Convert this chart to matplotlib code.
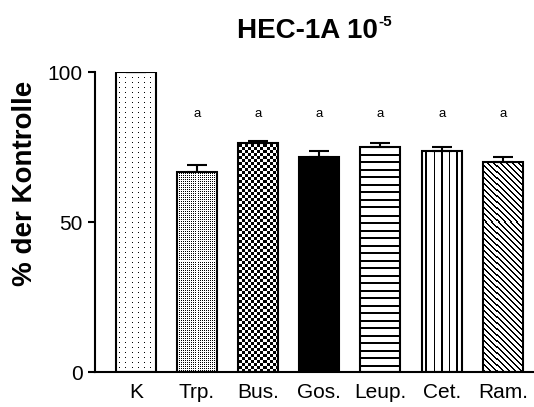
import numpy as np
import matplotlib
matplotlib.use("Agg")
import matplotlib.pyplot as plt

plt.rcParams['font.family'] = ['Liberation Sans', 'DejaVu Sans']

# ---- data ----
categories = ["K", "Trp.", "Bus.", "Gos.", "Leup.", "Cet.", "Ram."]
values = [100.0, 66.7, 76.2, 71.8, 75.1, 73.7, 70.1]
errors = [0.0, 2.3, 0.9, 1.8, 1.1, 1.2, 1.7]
sig_labels = ["", "a", "a", "a", "a", "a", "a"]
y_ticks = [0, 50, 100]
title_main = "HEC-1A 10"
title_sup = "-5"
y_label = "% der Kontrolle"

W, H = 534, 407
fig = plt.figure(figsize=(W / 100, H / 100), dpi=100)
ax_l, ax_b, ax_w, ax_h = 95, 35, 438, 300
ax = fig.add_axes([ax_l / W, ax_b / H, ax_w / W, ax_h / H])

x = np.arange(len(categories))
xlim = (-0.667, 6.493)
bar_w = 0.654

bars = ax.bar(x, values, bar_w, facecolor='none', edgecolor='black',
              linewidth=1.5, zorder=3)

# pixel textures (rows top->bottom, cols left->right)
I, J = np.mgrid[0:ax_h, 0:ax_w]
textures = [
    (J % 6 == 0) & (I % 5 == 0),            # K: sparse dots
    (J % 2 == 0) & (I % 2 == 0),            # Trp: dense dots
    ((I // 3 + J // 3) % 2 == 0),           # Bus: checkerboard
    np.ones_like(I, dtype=bool),            # Gos: solid black
    ((2 * I) % 15 < 4),                     # Leup: horizontal lines
    ((2 * J) % 15 < 3),                     # Cet: vertical lines
    ((J - I) % 6 < 2),                      # Ram: diagonal lines
]
for bar, mask in zip(bars, textures):
    rgba = np.ones((ax_h, ax_w, 4))
    rgba[mask, :3] = 0.0
    im = ax.imshow(rgba, extent=(xlim[0], xlim[1], 0, 100), origin='upper',
                   interpolation='nearest', aspect='auto', zorder=2)
    im.set_clip_path(bar)

ax.errorbar(x, values, yerr=[np.zeros(len(errors)), errors], fmt='none',
            ecolor='black', elinewidth=1.5, capsize=7.5, capthick=1.5,
            zorder=4)

for xi, lab in zip(x, sig_labels):
    if lab:
        ax.text(xi, 86, lab, ha='center', va='center', fontsize=9.5)

ax.set_xlim(*xlim)
ax.set_ylim(0, 100)
ax.set_yticks(y_ticks)
ax.set_xticks(x)
ax.set_xticklabels(categories, fontsize=15)
ax.tick_params(axis='x', length=0, pad=8)
ax.tick_params(axis='y', length=5, width=1.5, labelsize=15, pad=4)
for s in ['top', 'right']:
    ax.spines[s].set_visible(False)
for s in ['left', 'bottom']:
    ax.spines[s].set_linewidth(1.5)

fig.text(25.5 / W, 1 - 183.5 / H, y_label, rotation=90, ha='center',
         va='center', fontsize=20, fontweight='bold')
t_main = fig.text(237 / W, 1 - 38 / H, title_main, ha='left', va='baseline',
                  fontsize=20, fontweight='bold')
fig.canvas.draw()
ext = t_main.get_window_extent(renderer=fig.canvas.get_renderer())
fig.text((ext.x1 + 0.5) / W, 1 - 26 / H, title_sup, ha='left', va='baseline',
         fontsize=11, fontweight='bold')

fig.savefig("out.png", dpi=100)
